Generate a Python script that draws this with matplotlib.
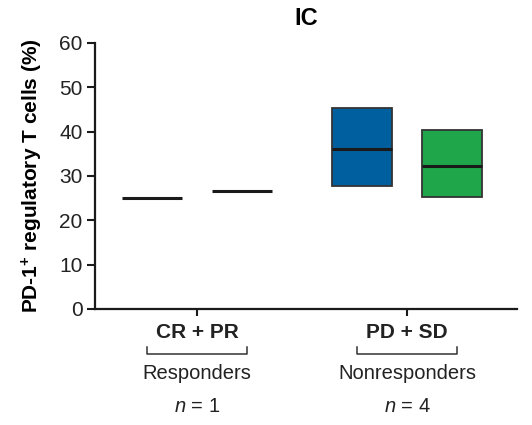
import matplotlib
matplotlib.use("Agg")
import matplotlib.pyplot as plt
import matplotlib.transforms as mtransforms

plt.rcParams["font.family"] = ["Liberation Sans", "DejaVu Sans"]
plt.rcParams["mathtext.fontset"] = "custom"
plt.rcParams["mathtext.it"] = "Liberation Sans:italic"
plt.rcParams["mathtext.rm"] = "Liberation Sans"
plt.rcParams["mathtext.bf"] = "Liberation Sans:bold"

groups = ["CR + PR", "PD + SD"]
group_names = ["Responders", "Nonresponders"]
group_n = ["1", "4"]

# four boxes: two per group (q1, median, q3)
box_group = [0, 0, 1, 1]
box_side = [-1, 1, -1, 1]
q1 = [25.0, 26.7, 27.8, 25.2]
median = [25.0, 26.7, 36.0, 32.2]
q3 = [25.0, 26.7, 45.3, 40.3]
box_colors = ["#005f9e", "#1fa64a", "#005f9e", "#1fa64a"]

fig = plt.figure(figsize=(5.32, 4.25), dpi=100)
ax = fig.add_axes([0.1786, 0.273, 0.7934, 0.626])

centers = [1, 2]
offset = 0.215
width = 0.285
for g, s, lo, med, hi, c in zip(box_group, box_side, q1, median, q3, box_colors):
    x = centers[g] + s * offset
    if hi > lo:
        ax.bar(x, hi - lo, bottom=lo, width=width, color=c,
               edgecolor="#333333", linewidth=1.3, zorder=2)
    ax.hlines(med, x - width / 2, x + width / 2, color="#1a1a1a",
              linewidth=2.2, zorder=3)

ax.set_xlim(0.514, 2.524)
ax.set_ylim(0, 60)
ax.set_yticks(range(0, 61, 10))
ax.set_xticks(centers)
ax.set_xticklabels(groups, fontweight="bold", fontsize=15, color="#222222")
ax.tick_params(axis="y", labelsize=15, length=6, width=1.5, direction="out",
               colors="#1a1a1a", labelcolor="#222222", pad=3)
ax.tick_params(axis="x", length=5, width=1.5, pad=5, colors="#1a1a1a",
               labelcolor="#222222")
for side in ["top", "right"]:
    ax.spines[side].set_visible(False)
for side in ["left", "bottom"]:
    ax.spines[side].set_linewidth(1.6)
    ax.spines[side].set_color("#1a1a1a")

ax.set_ylabel(r"PD-1$^{\mathbf{+}}$ regulatory T cells (%)", fontweight="bold",
              fontsize=15, labelpad=10)
ax.set_title("IC", fontweight="bold", fontsize=17, pad=13)

trans = mtransforms.blended_transform_factory(ax.transData, ax.transAxes)
bw = 0.24
for cx, name, n in zip(centers, group_names, group_n):
    ax.plot([cx - bw, cx - bw, cx + bw, cx + bw], [-0.143, -0.169, -0.169, -0.143],
            transform=trans, color="#333333", linewidth=1.1, clip_on=False)
    ax.text(cx, -0.244, name, transform=trans, ha="center", va="center",
            fontsize=14.5, color="#222222")
    ax.text(cx, -0.365, "$n$ = " + n, transform=trans, ha="center",
            va="center", fontsize=14.5, color="#222222")

fig.savefig("out.png", dpi=100, facecolor="white")
